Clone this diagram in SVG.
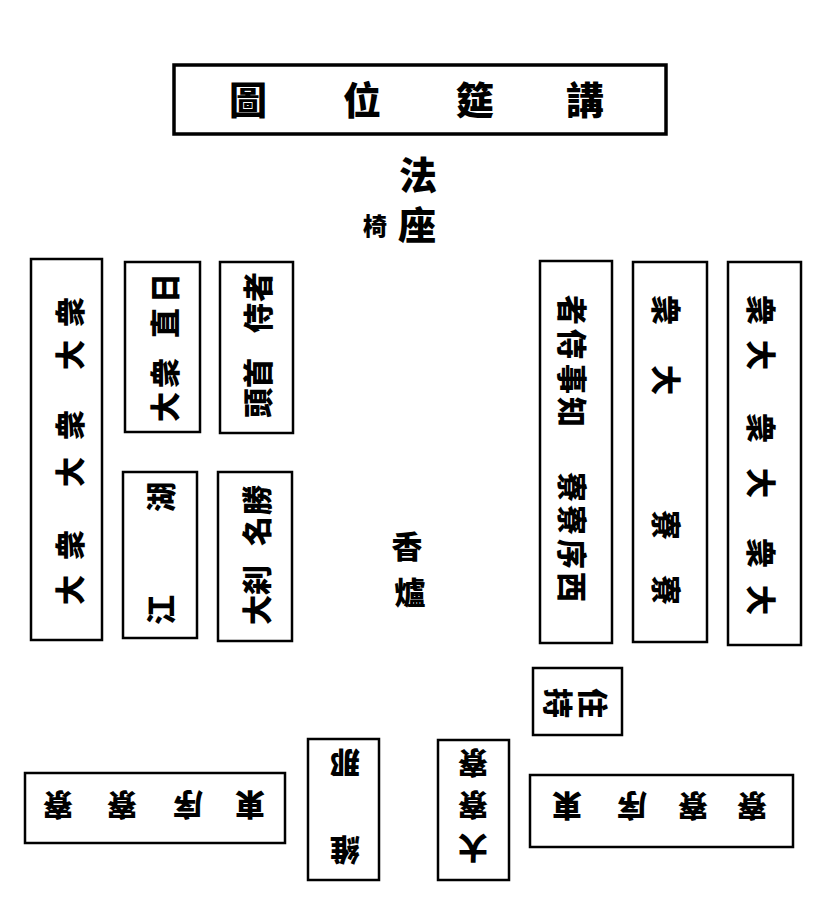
<svg xmlns="http://www.w3.org/2000/svg" width="840" height="909" viewBox="0 0 840 909">
<style>
.box{fill:none;stroke:#000;stroke-width:2.5}
.tbox{fill:none;stroke:#000;stroke-width:3.5}
.t{font-family:"Noto Sans CJK TC","Noto Sans CJK SC",sans-serif;font-weight:900;font-size:30px;text-anchor:middle;dominant-baseline:central;fill:#000}
.big{font-size:38px}
.mid{font-size:31px}
.sm{font-size:24px}
</style>
<rect width="840" height="909" fill="#fff"/>
<g id="title">
<rect class="tbox" x="174" y="65" width="492" height="69"/>
<text class="t big" x="585" y="97">講</text>
<text class="t big" x="475" y="97">筵</text>
<text class="t big" x="362" y="97">位</text>
<text class="t big" x="248" y="97">圖</text>
</g>
<g id="fazuo">
<text class="t big" x="418" y="172">法</text>
<text class="t big" x="417" y="222">座</text>
<text class="t sm" x="375" y="224">椅</text>
</g>
<g id="xianglu">
<text class="t mid" x="407" y="544">香</text>
<text class="t mid" x="410" y="590">爐</text>
</g>
<g id="L1">
<rect class="box" x="31" y="259" width="71" height="381"/>
<text class="t" x="68" y="590" transform="rotate(-90 68 590)">大</text>
<text class="t" x="68" y="545" transform="rotate(-90 68 545)">衆</text>
<text class="t" x="68" y="472" transform="rotate(-90 68 472)">大</text>
<text class="t" x="68" y="425" transform="rotate(-90 68 425)">衆</text>
<text class="t" x="68" y="355" transform="rotate(-90 68 355)">大</text>
<text class="t" x="68" y="312" transform="rotate(-90 68 312)">衆</text>
</g>
<g id="L2">
<rect class="box" x="125" y="262" width="75" height="170"/>
<text class="t" x="163" y="407" transform="rotate(-90 163 407)">大</text>
<text class="t" x="163" y="373" transform="rotate(-90 163 373)">衆</text>
<text class="t" x="163" y="323" transform="rotate(-90 163 323)">直</text>
<text class="t" x="163" y="288" transform="rotate(-90 163 288)">日</text>
</g>
<g id="L3">
<rect class="box" x="220" y="262" width="73" height="171"/>
<text class="t" x="256" y="403" transform="rotate(-90 256 403)">頭</text>
<text class="t" x="256" y="373" transform="rotate(-90 256 373)">首</text>
<text class="t" x="256" y="318" transform="rotate(-90 256 318)">侍</text>
<text class="t" x="256" y="287" transform="rotate(-90 256 287)">者</text>
</g>
<g id="L4">
<rect class="box" x="123" y="472" width="74" height="166"/>
<text class="t" x="159" y="610" transform="rotate(-90 159 610)">江</text>
<text class="t" x="159" y="497" transform="rotate(-90 159 497)">湖</text>
</g>
<g id="L5">
<rect class="box" x="218" y="472" width="74" height="169"/>
<text class="t" x="255" y="610" transform="rotate(-90 255 610)">大</text>
<text class="t" x="255" y="580" transform="rotate(-90 255 580)">刹</text>
<text class="t" x="255" y="531" transform="rotate(-90 255 531)">名</text>
<text class="t" x="255" y="500" transform="rotate(-90 255 500)">勝</text>
</g>
<g id="R1">
<rect class="box" x="540" y="261" width="72" height="382"/>
<text class="t" x="574" y="412" transform="rotate(90 574 412)">知</text>
<text class="t" x="574" y="379" transform="rotate(90 574 379)">事</text>
<text class="t" x="574" y="344" transform="rotate(90 574 344)">侍</text>
<text class="t" x="574" y="310" transform="rotate(90 574 310)">者</text>
<text class="t" x="574" y="587" transform="rotate(90 574 587)">西</text>
<text class="t" x="574" y="554" transform="rotate(90 574 554)">序</text>
<text class="t" x="574" y="520" transform="rotate(90 574 520)">寮</text>
<text class="t" x="574" y="487" transform="rotate(90 574 487)">寮</text>
</g>
<g id="R2">
<rect class="box" x="633" y="262" width="74" height="380"/>
<text class="t" x="668" y="590" transform="rotate(90 668 590)">寮</text>
<text class="t" x="668" y="525" transform="rotate(90 668 525)">寮</text>
<text class="t" x="668" y="380" transform="rotate(90 668 380)">大</text>
<text class="t" x="668" y="310" transform="rotate(90 668 310)">衆</text>
</g>
<g id="R3">
<rect class="box" x="728" y="262" width="73" height="383"/>
<text class="t" x="763" y="600" transform="rotate(90 763 600)">大</text>
<text class="t" x="763" y="553" transform="rotate(90 763 553)">衆</text>
<text class="t" x="763" y="483" transform="rotate(90 763 483)">大</text>
<text class="t" x="763" y="428" transform="rotate(90 763 428)">衆</text>
<text class="t" x="763" y="355" transform="rotate(90 763 355)">大</text>
<text class="t" x="763" y="310" transform="rotate(90 763 310)">衆</text>
</g>
<g id="zhuchi">
<rect class="box" x="533" y="668" width="89" height="67"/>
<text class="t" x="595" y="703" transform="rotate(90 595 703)">住</text>
<text class="t" x="560" y="703" transform="rotate(90 560 703)">持</text>
</g>
<g id="BM1">
<rect class="box" x="308" y="739" width="71" height="141"/>
<text class="t" x="345" y="852" transform="rotate(180 345 852)">維</text>
<text class="t" x="345" y="765" transform="rotate(180 345 765)">那</text>
</g>
<g id="BM2">
<rect class="box" x="438" y="740" width="71" height="140"/>
<text class="t" x="473" y="850" transform="rotate(180 473 850)">大</text>
<text class="t" x="473" y="807" transform="rotate(180 473 807)">寮</text>
<text class="t" x="473" y="765" transform="rotate(180 473 765)">寮</text>
</g>
<g id="BL">
<rect class="box" x="25" y="773" width="260" height="70"/>
<text class="t" x="250" y="807" transform="rotate(180 250 807)">東</text>
<text class="t" x="188" y="807" transform="rotate(180 188 807)">序</text>
<text class="t" x="122" y="807" transform="rotate(180 122 807)">寮</text>
<text class="t" x="58" y="807" transform="rotate(180 58 807)">寮</text>
</g>
<g id="BR">
<rect class="box" x="530" y="775" width="263" height="72"/>
<text class="t" x="567" y="808" transform="rotate(180 567 808)">東</text>
<text class="t" x="632" y="808" transform="rotate(180 632 808)">序</text>
<text class="t" x="693" y="808" transform="rotate(180 693 808)">寮</text>
<text class="t" x="752" y="808" transform="rotate(180 752 808)">寮</text>
</g>
<g id="connectors"></g>
</svg>
